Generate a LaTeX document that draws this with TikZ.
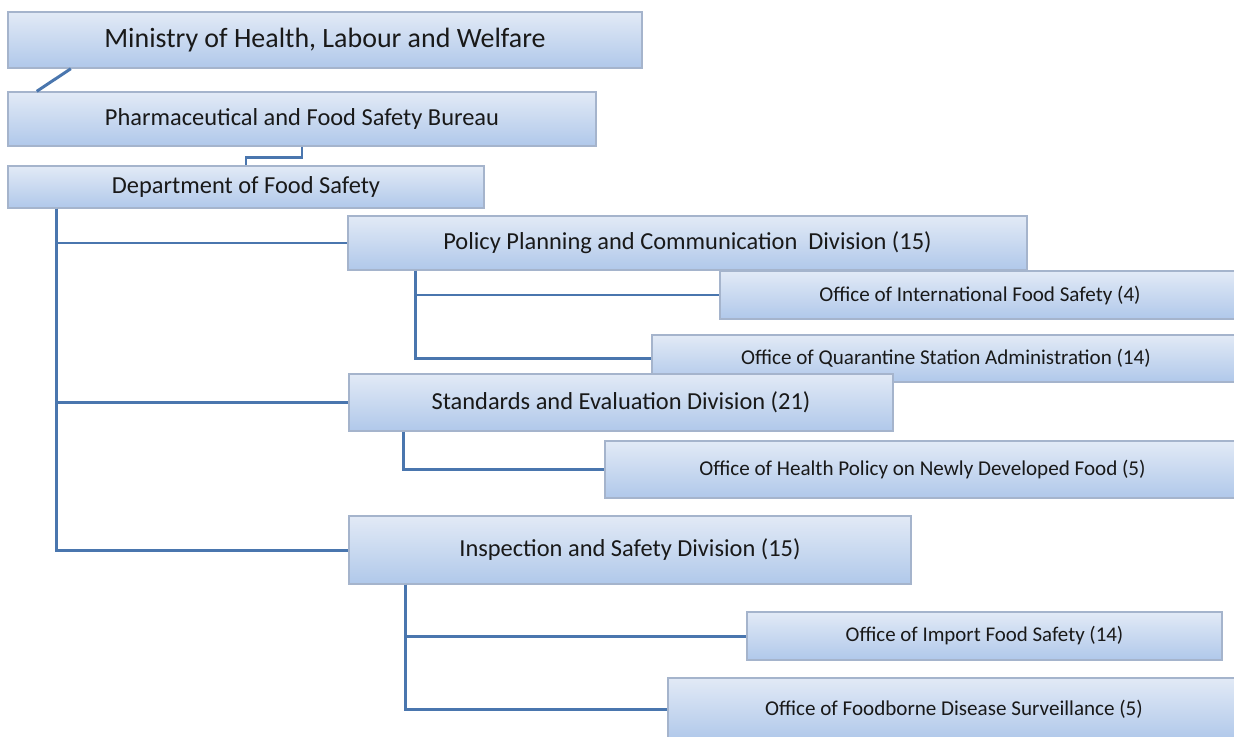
\documentclass[tikz,border=0pt]{standalone}
\usepackage{fontspec}
\setmainfont{Carlito}
\usetikzlibrary{calc}

\definecolor{boxtop}{RGB}{226,234,246}
\definecolor{boxbottom}{RGB}{176,200,234}
\definecolor{boxrim}{RGB}{165,180,204}
\definecolor{linkblue}{RGB}{74,118,174}

\tikzset{
  unit/.style={rectangle, draw=boxrim, line width=0.8pt, top color=boxtop, bottom color=boxbottom,
               text=black!90, inner sep=0pt, align=center},
  link/.style={draw=linkblue, line width=1.7pt}
}

\begin{document}
\begin{tikzpicture}
\useasboundingbox (0,0) rectangle (24.68,-14.72);

% Ministry and bureau
\node[unit, minimum width=12.68cm, minimum height=1.12cm, font=\fontsize{15.9}{18}\selectfont] (Ministry) at (6.5,-0.8) {Ministry of Health, Labour and Welfare};
\node[unit, minimum width=11.76cm, minimum height=1.08cm, font=\fontsize{13.9}{16}\selectfont] (Bureau) at (6.04,-2.38) {Pharmaceutical and Food Safety Bureau};

% Department
\node[unit, minimum width=9.52cm, minimum height=0.84cm, font=\fontsize{13.9}{16}\selectfont] (Department) at (4.92,-3.74) {Department of Food Safety};

% Divisions and offices
\node[unit, minimum width=13.58cm, minimum height=1.08cm, font=\fontsize{13.9}{16}\selectfont] (Division-1) at (13.75,-4.86) {Policy Planning and Communication\ \ Division (15)};
\node[unit, minimum width=10.4cm, minimum height=0.96cm, font=\fontsize{12}{14}\selectfont] (Office-1) at (19.6,-5.9) {Office of International Food Safety (4)};
\node[unit, minimum width=11.76cm, minimum height=0.94cm, font=\fontsize{12}{14}\selectfont] (Office-2) at (18.92,-7.17) {Office of Quarantine Station Administration (14)};
\node[unit, minimum width=10.88cm, minimum height=1.14cm, font=\fontsize{13.9}{16}\selectfont] (Division-2) at (12.42,-8.05) {Standards and Evaluation Division (21)};
\node[unit, minimum width=12.7cm, minimum height=1.14cm, font=\fontsize{12}{14}\selectfont] (Office-3) at (18.45,-9.39) {Office of Health Policy on Newly Developed Food (5)};
\node[unit, minimum width=11.24cm, minimum height=1.36cm, font=\fontsize{13.9}{16}\selectfont] (Division-3) at (12.6,-11.0) {Inspection and Safety Division (15)};
\node[unit, minimum width=9.5cm, minimum height=0.96cm, font=\fontsize{11.9}{14}\selectfont] (Office-4) at (19.69,-12.72) {Office of Import Food Safety (14)};
\node[unit, minimum width=11.44cm, minimum height=1.24cm, font=\fontsize{12}{14}\selectfont] (Office-5) at (19.08,-14.18) {Office of Foodborne Disease Surveillance (5)};

% Bus lines
\coordinate (Department-bus) at ($(Department.south west)+(0.98,0)$);
\coordinate (Division-1-bus) at ($(Division-1.south west)+(1.36,0)$);
\coordinate (Division-2-bus) at ($(Division-2.south west)+(1.1,0)$);
\coordinate (Division-3-bus) at ($(Division-3.south west)+(1.14,0)$);

% Upper links
\draw[link] ($(Ministry.south west)!0.1!(Ministry.south east)$) -- ($(Bureau.north west)!0.05!(Bureau.north east)$);
\draw[link] (Bureau.south) -- ++(0,-0.22) -| (Department.north);

% Department to divisions
\foreach \i in {1,...,3}
{
    \draw[link] (Department-bus) |- (Division-\i.west);
}

% Divisions to offices
\foreach \j in {1,2}
{
    \draw[link] (Division-1-bus) |- (Office-\j.west);
}
\draw[link] (Division-2-bus) |- (Office-3.west);
\foreach \j in {4,5}
{
    \draw[link] (Division-3-bus) |- (Office-\j.west);
}
\end{tikzpicture}
\end{document}
